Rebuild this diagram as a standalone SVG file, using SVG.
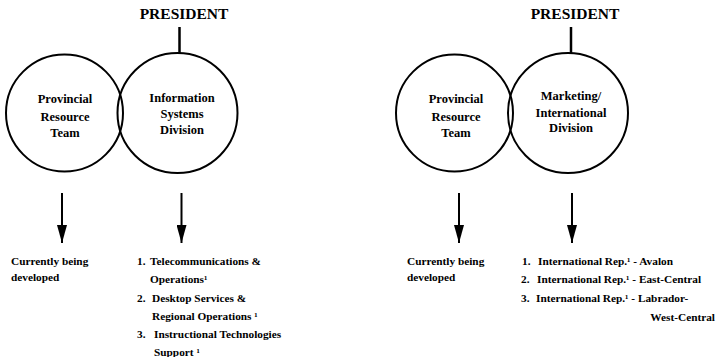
<svg xmlns="http://www.w3.org/2000/svg" width="717" height="357" viewBox="0 0 717 357">
<style>
text{font-family:"Liberation Serif","Times New Roman",serif;font-weight:bold;fill:#000}
.title{font-size:15.5px;text-anchor:middle}
.ct{font-size:12.5px;text-anchor:middle}
.lt{font-size:11.3px}
.circ{fill:none;stroke:#000;stroke-width:2}
.ln{stroke:#000;stroke-width:2.5;fill:none}
.arr{stroke:#000;stroke-width:2;fill:none}
</style>
<defs>
<marker id="ah" viewBox="0 0 18 10" refX="18" refY="5" markerWidth="18" markerHeight="10" markerUnits="userSpaceOnUse" orient="auto">
<path d="M0,0 L18,5 L0,10 Z" fill="#000"/>
</marker>
</defs>
<rect width="717" height="357" fill="#fff"/>

<g id="president-left"><text class="title" x="184" y="19">PRESIDENT</text></g>
<g id="prt-left">
<circle class="circ" cx="64.5" cy="113" r="58.5"/>
<text class="ct" x="65" y="103">Provincial</text>
<text class="ct" x="65" y="121">Resource</text>
<text class="ct" x="65" y="137">Team</text>
</g>
<g id="isd">
<circle class="circ" cx="177.5" cy="113" r="60"/>
<text class="ct" x="182" y="102">Information</text>
<text class="ct" x="182" y="118">Systems</text>
<text class="ct" x="182" y="134">Division</text>
</g>
<g id="out-left-1">
<text class="lt" x="11" y="265">Currently being</text>
<text class="lt" x="11" y="281">developed</text>
</g>
<g id="out-left-2">
<text class="lt" x="137" y="265">1.</text><text class="lt" x="150" y="265">Telecommunications &amp;</text>
<text class="lt" x="150" y="283">Operations¹</text>
<text class="lt" x="137" y="302">2.</text><text class="lt" x="152" y="302">Desktop Services &amp;</text>
<text class="lt" x="152" y="320">Regional Operations ¹</text>
<text class="lt" x="137" y="338">3.</text><text class="lt" x="154" y="338">Instructional Technologies</text>
<text class="lt" x="154" y="356">Support ¹</text>
</g>

<g id="president-right"><text class="title" x="575" y="19">PRESIDENT</text></g>
<g id="prt-right">
<circle class="circ" cx="454.5" cy="113" r="58.5"/>
<text class="ct" x="456" y="103">Provincial</text>
<text class="ct" x="456" y="121">Resource</text>
<text class="ct" x="456" y="137">Team</text>
</g>
<g id="mid">
<circle class="circ" cx="568" cy="113" r="60"/>
<text class="ct" x="571" y="100">Marketing/</text>
<text class="ct" x="571" y="117">International</text>
<text class="ct" x="571" y="132">Division</text>
</g>
<g id="out-right-1">
<text class="lt" x="407" y="265">Currently being</text>
<text class="lt" x="407" y="281">developed</text>
</g>
<g id="out-right-2">
<text class="lt" x="522" y="265">1.</text><text class="lt" x="538" y="265">International Rep.¹ - Avalon</text>
<text class="lt" x="521" y="283">2.</text><text class="lt" x="537" y="283">International Rep.¹ - East-Central</text>
<text class="lt" x="521" y="302">3.</text><text class="lt" x="536" y="302">International Rep.¹ - Labrador-</text>
<text class="lt" x="715" y="321" text-anchor="end">West-Central</text>
</g>

<g id="connectors">
<line class="ln" x1="179.5" y1="27" x2="179.5" y2="54"/>
<line class="ln" x1="571" y1="27" x2="571" y2="54"/>
<line class="arr" x1="62" y1="193" x2="62" y2="243" marker-end="url(#ah)"/>
<line class="arr" x1="181.5" y1="193" x2="181.5" y2="243" marker-end="url(#ah)"/>
<line class="arr" x1="459" y1="193" x2="459" y2="243" marker-end="url(#ah)"/>
<line class="arr" x1="572" y1="193" x2="572" y2="243" marker-end="url(#ah)"/>
</g>
</svg>
